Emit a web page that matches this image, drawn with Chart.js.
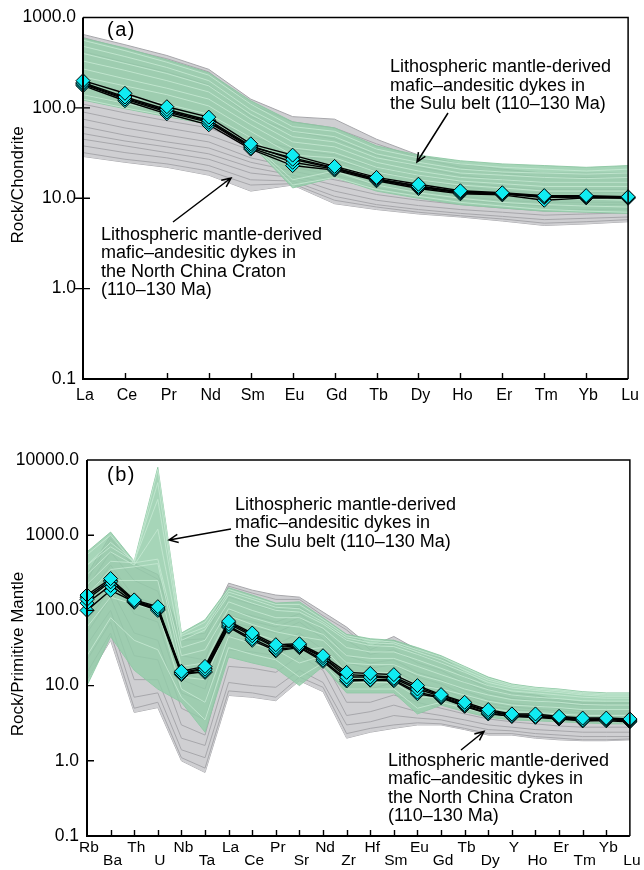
<!DOCTYPE html>
<html>
<head>
<meta charset="utf-8">
<script src="https://cdn.jsdelivr.net/npm/chart.js@4/dist/chart.umd.min.js"></script>
<style>
  html, body { margin: 0; padding: 0; background: #fff; }
  #wrap { position: relative; width: 644px; height: 870px; }
  canvas { position: absolute; left: 0; }
  #reeChart { top: 0; width: 644px; height: 430px; }
  #spiderChart { top: 430px; width: 644px; height: 440px; }
</style>
</head>
<body>
<div id="wrap">
  <canvas id="reeChart" width="644" height="430"></canvas>
  <canvas id="spiderChart" width="644" height="440"></canvas>
</div>
<script>
// ---------- (a) chondrite-normalised REE ----------
const reeElements = ['La','Ce','Pr','Nd','Sm','Eu','Gd','Tb','Dy','Ho','Er','Tm','Yb','Lu'];
const reeTicks = [0.1, 1, 10, 100, 1000];

// dykes (cyan diamonds)
const reeDykes = [
  [200,145,103,79,40,30,22.5,17,14.3,12.1,11.5,10.7,10.7,10.4],
  [190,132,96,73,38,27,21.5,16.5,13.5,11.8,11.3,10.4,10.5,10.3],
  [182,125,90,69,36,25,21,16,13.2,11.5,11.1,10.2,10.3,10.2],
  [176,120,86,65,35,23,20.5,15.6,12.8,11.2,10.9,9.5,10.1,10.0],
  [186,128,93,71,37,28,21.8,16.2,13.8,11.6,11.2,10.6,10.4,10.3]
];

// Sulu belt field (green)
const reeSuluTop    = [590,460,340,245,120,70,60,38,30,26,24,23,22,23];
const reeSuluBottom = [122,98,80,66,40,13,17,12,10,8.5,7.8,7.2,7,6.8];
const reeSuluLines = [
  [560,430,320,230,110,62,55,35,28,24,22,21,20,21],
  [480,370,280,200,95,55,48,31,25,21,19.5,19,18.5,19],
  [400,310,240,175,85,48,42,28,23,19,18,17,16.5,17],
  [330,260,200,150,75,42,37,25,20,17,16,15,15,15],
  [270,210,165,125,65,36,32,22,18,15.5,14.5,13.5,13.5,13.5],
  [220,175,140,105,55,30,28,19.5,16,14,13,12,12,12],
  [170,135,110,85,47,22,24,17,14,12,11,10,9.8,9.5],
  [140,112,90,72,42,16,20,14,11.5,10,9,8.5,8.2,8],
  [125,100,82,67,41,14,17,12.5,10.5,9,8.2,7.5,7.2,7]
];

// North China Craton field (grey)
const reeNccTop    = [650,500,380,267,125,80,75,45,30,24,21,19,19,19];
const reeNccBottom = [29,25,22,18,12,14,8.7,7.5,6.7,6.2,5.6,5.0,5.2,5.5];
const reeNccLines = [
  [600,450,350,250,110,70,60,40,28,22,19,17,17,17],
  [420,320,250,180,80,55,45,30,22,18,16,15,15,15],
  [140,110,90,75,48,35,30,22,18,15,13.5,12.5,12.5,12.5],
  [110,88,72,60,40,30,26,20,16,13.5,12,11.5,11.5,11.6],
  [90,72,60,50,34,27,22,17,14,12,11,10,10,10],
  [75,60,50,42,28,22,18,14,12,10.5,9.5,9,9,9],
  [62,50,42,36,25,20,16,13,11,9.5,8.8,8.2,8.4,8.6],
  [52,43,37,31,22,18,14,11,9.5,8.5,7.8,7.2,7.5,7.6],
  [45,38,32,27,19,17,12,9.5,8.3,7.5,7,6.5,6.7,6.9],
  [38,32,28,23,16,15.5,10.5,8.5,7.5,6.8,6.3,5.8,6,6.2],
  [32,27,24,20,14,14.5,9.5,8,7,6.4,5.9,5.3,5.5,5.8]
];

// ---------- (b) primitive-mantle-normalised trace elements ----------
const spiderElements = ['Rb','Ba','Th','U','Nb','Ta','La','Ce','Pr','Sr','Nd','Zr','Hf','Sm','Eu','Gd','Tb','Dy','Y','Ho','Er','Tm','Yb','Lu'];
const spiderTicks = [0.1, 1, 10, 100, 1000, 10000];

const spiderDykes = [
  [160,265,138,112,15.5,18,72,50,35,36,25,15,14.5,14,10,7.6,6.0,4.8,4.2,4.2,3.9,3.7,3.7,3.6],
  [140,240,132,105,14.5,16.5,66,46,32,34,23.5,13,13,12.5,9,7.2,5.6,4.5,4.0,3.9,3.8,3.5,3.6,3.5],
  [125,215,128,100,14,15.5,62,42,30,33,22,12,12,12,8.2,7.0,5.4,4.3,3.9,3.8,3.7,3.4,3.5,3.4],
  [100,185,130,103,14.8,15,60,40,29,32,21,11.5,11.8,11.6,7.8,6.9,5.3,4.2,3.9,3.8,3.6,3.4,3.4,3.3],
  [150,250,135,108,15,17,69,48,33,35,24,14,13.5,13,9.5,7.4,5.8,4.6,4.1,4.0,3.85,3.6,3.6,3.5]
];

const spiderSuluTop    = [600,1100,450,8000,50,75,200,160,125,130,80,48,42,40,32,25,18,13,10.5,9.5,9,8.3,8,8];
const spiderSuluBottom = [10,45,16,9,6,2.4,24,20,17,10,18,8,8,8,4.2,5.5,4.5,3.8,3.5,3.4,3.3,3.2,3.1,3.1];
const spiderSuluLines = [
  [550,1000,420,7500,48,70,190,150,120,120,76,46,40,38,30,24,17.5,12.5,10.2,9.3,8.8,8.1,7.8,7.8],
  [400,700,450,5000,45,60,175,140,110,105,70,43,37,36,28,22,16,11.8,9.8,9,8.5,7.8,7.5,7.5],
  [400,800,450,3000,40,55,160,125,100,95,66,40,34,33,26,20,15,11,9.3,8.6,8.1,7.5,7.2,7.2],
  [300,600,400,1200,32,40,130,100,80,80,58,32,28,28,22,17,13,10,8.5,8,7.5,7,6.8,6.8],
  [220,450,430,480,25,30,105,80,65,60,48,25,23,23,18,14,11,8.8,7.5,7,6.7,6.3,6.2,6.2],
  [160,350,380,420,18,20,85,65,52,45,40,20,19,19,14,11.5,9,7.5,6.5,6.2,6,5.6,5.5,5.5],
  [110,250,250,250,13,12,65,50,40,30,32,15,15,15,10,9,7.5,6.2,5.5,5.3,5.1,4.8,4.8,4.8],
  [60,150,120,100,9,6,45,36,30,20,25,11,11,11,7,7,6,5,4.5,4.4,4.2,4,4,4],
  [25,80,40,30,7,3.5,32,26,22,13,20,9,9,9,5,6,5,4.2,3.8,3.7,3.6,3.4,3.3,3.3]
];

const spiderNccTop    = [300,1000,420,300,45,50,230,186,160,150,95,60,33,45,30,24,15,10,8,7.5,6.5,6,6,6];
const spiderNccBottom = [12,40,4.4,5.1,1.0,0.7,7.4,7,6.3,11.6,8.3,2.0,2.4,2.7,3.0,3.0,2.6,2.2,2.2,2.0,1.9,1.85,1.85,1.9];
const spiderNccLines = [
  [250,900,380,260,40,42,210,170,140,140,85,55,30,40,26,20,13,9,7.5,7,6.2,5.8,5.8,5.8],
  [200,600,250,180,25,22,150,120,100,110,70,40,26,30,20,16,11,8,6.8,6.3,5.8,5.4,5.4,5.4],
  [150,400,150,120,15,12,100,85,70,90,55,25,20,22,15,12,8.5,6.5,5.8,5.4,5.0,4.6,4.6,4.6],
  [120,350,120,100,12,9,85,72,60,80,48,20,17,19,13,10.5,7.5,5.8,5.2,4.9,4.6,4.3,4.3,4.3],
  [100,300,90,70,8,6,70,60,50,70,42,15,14,16,11,9,6.8,5.3,4.8,4.5,4.2,3.9,3.9,4.0],
  [70,200,50,40,5,3.5,45,40,35,50,30,9,9,11,8,6.5,5.2,4.3,3.9,3.7,3.5,3.3,3.3,3.3],
  [50,150,25,22,3,2.2,30,28,25,35,22,6,6,7.5,6,5,4.2,3.6,3.3,3.1,2.9,2.8,2.8,2.8],
  [35,100,12,12,2,1.6,18,17,15,25,16,4,4.5,5.5,4.5,4,3.5,3,2.8,2.6,2.5,2.4,2.4,2.4],
  [22,70,7,8,1.4,1.1,11,10,9.5,16,11,3,3.3,4,3.7,3.5,3.0,2.6,2.5,2.3,2.2,2.1,2.1,2.1],
  [15,50,5,6,1.1,0.8,8.5,8,7,13,9.5,2.3,2.7,3.0,3.2,3.1,2.7,2.3,2.3,2.1,2.0,1.9,1.9,1.95]
];

// ---------- styling ----------
const FONT = "'Liberation Sans', Arial, Helvetica, sans-serif";
const GREY_FILL = '#cfcfd2';
const GREY_LINE = '#a7a7ab';
const GREEN_FILL = 'rgba(146,204,168,0.82)';
const GREEN_LINE = 'rgba(198,233,210,0.85)';
const GREEN_EDGE = 'rgba(140,198,162,0.9)';
const CYAN = '#10ecf2';

Chart.defaults.font.family = FONT;
Chart.defaults.color = '#000';

function plain(data, color, width, order) {
  return { data, borderColor: color, borderWidth: width, pointRadius: 0, pointHoverRadius: 0,
           fill: false, tension: 0, order };
}

function buildDatasets(dykes, suluTop, suluBottom, suluLines, nccTop, nccBottom, nccLines) {
  const sets = [];
  dykes.forEach(d => sets.push({
    data: d, borderColor: '#000', borderWidth: 1.4, tension: 0, fill: false, order: 0, clip: false,
    pointStyle: 'rectRot', pointRadius: 7, pointHoverRadius: 7,
    pointBackgroundColor: CYAN, pointBorderColor: '#000', pointBorderWidth: 1
  }));
  suluLines.forEach(d => sets.push(plain(d, GREEN_LINE, 1, 10)));
  sets.push(Object.assign(plain(suluTop, GREEN_EDGE, 1, 20), { fill: '+1', backgroundColor: GREEN_FILL }));
  sets.push(plain(suluBottom, GREEN_EDGE, 1, 20));
  nccLines.forEach(d => sets.push(plain(d, GREY_LINE, 1, 30)));
  sets.push(Object.assign(plain(nccTop, GREY_LINE, 1, 40), { fill: '+1', backgroundColor: GREY_FILL }));
  sets.push(plain(nccBottom, GREY_LINE, 1, 40));
  return sets;
}

// frame, inward tick marks, axis title, panel tag, annotations and arrows
const decor = {
  id: 'decor',
  afterDraw(chart, args, o) {
    const { ctx, chartArea: a } = chart;
    const xs = chart.scales.x, ys = chart.scales.y;
    ctx.save();
    ctx.strokeStyle = '#000';
    ctx.lineWidth = 1.4;
    ctx.beginPath();
    for (let i = 1; i < xs.ticks.length - 1; i++) {
      const x = Math.round(xs.getPixelForTick(i)) + 0.5;
      ctx.moveTo(x, a.bottom);
      ctx.lineTo(x, a.bottom - o.xTick);
    }
    ys.ticks.forEach(t => {
      const y = ys.getPixelForValue(t.value);
      if (y <= a.top + 2 || y >= a.bottom - 2) return;
      ctx.moveTo(a.left - o.yTickOut, y);
      ctx.lineTo(a.left + o.yTickIn, y);
    });
    ctx.stroke();

    ctx.lineWidth = 1.5;
    ctx.beginPath();
    ctx.moveTo(a.left, a.top); ctx.lineTo(a.right, a.top); ctx.lineTo(a.right, a.bottom);
    ctx.stroke();
    ctx.lineWidth = 2;
    ctx.beginPath();
    ctx.moveTo(a.left, a.top); ctx.lineTo(a.left, a.bottom); ctx.lineTo(a.right, a.bottom);
    ctx.stroke();

    ctx.fillStyle = '#000';
    // y axis title
    ctx.save();
    ctx.translate(o.yTitle.x, o.yTitle.y);
    ctx.rotate(-Math.PI / 2);
    ctx.font = '17px ' + FONT;
    ctx.textAlign = 'center';
    ctx.textBaseline = 'middle';
    ctx.fillText(o.yTitle.text, 0, 0);
    ctx.restore();

    // panel tag
    ctx.save();
    ctx.font = '20px ' + FONT;
    if ('letterSpacing' in ctx) ctx.letterSpacing = '1.5px';
    ctx.textAlign = 'left';
    ctx.textBaseline = 'middle';
    ctx.fillText(o.tag.text, o.tag.x, o.tag.y);
    ctx.restore();

    // annotations
    ctx.font = '18px ' + FONT;
    ctx.textAlign = 'left';
    ctx.textBaseline = 'middle';
    o.notes.forEach(n => n.lines.forEach((s, i) => ctx.fillText(s, n.x, n.y + i * n.lh)));

    // arrows with open heads
    ctx.lineWidth = 1.5;
    o.arrows.forEach(ar => {
      const ang = Math.atan2(ar.y2 - ar.y1, ar.x2 - ar.x1);
      const L = 10, w = 0.42;
      ctx.beginPath();
      ctx.moveTo(ar.x1, ar.y1); ctx.lineTo(ar.x2, ar.y2);
      ctx.moveTo(ar.x2 - L * Math.cos(ang - w), ar.y2 - L * Math.sin(ang - w));
      ctx.lineTo(ar.x2, ar.y2);
      ctx.lineTo(ar.x2 - L * Math.cos(ang + w), ar.y2 - L * Math.sin(ang + w));
      ctx.stroke();
    });
    ctx.restore();
  }
};

function makePanel(canvasId, cfg) {
  return new Chart(document.getElementById(canvasId), {
    type: 'line',
    data: { labels: cfg.labels, datasets: cfg.datasets },
    plugins: [decor],
    options: {
      responsive: false,
      animation: false,
      events: [],
      layout: { padding: { top: cfg.padTop, right: cfg.padRight, left: 0, bottom: 0 } },
      plugins: { legend: { display: false }, tooltip: { enabled: false }, decor: cfg.decor },
      scales: {
        x: {
          type: 'category',
          offset: false,
          grid: { display: false, drawTicks: false },
          border: { display: false },
          ticks: {
            autoSkip: false, maxRotation: 0, minRotation: 0,
            padding: cfg.xPad, labelOffset: 2, color: '#000',
            font: cfg.xFont,
            callback: cfg.xCallback
          },
          afterFit: s => { s.height = cfg.xHeight; }
        },
        y: {
          type: 'logarithmic',
          min: cfg.ticks[0], max: cfg.ticks[cfg.ticks.length - 1],
          grid: { display: false, drawTicks: false },
          border: { display: false },
          afterBuildTicks: s => { s.ticks = cfg.ticks.map(v => ({ value: v })); },
          ticks: {
            padding: cfg.yPad, color: '#000',
            font: { size: 17.5 },
            callback: v => Number(v).toFixed(1)
          },
          afterFit: s => { s.width = cfg.yWidth; }
        }
      }
    }
  });
}

makePanel('reeChart', {
  labels: reeElements,
  ticks: reeTicks,
  datasets: buildDatasets(reeDykes, reeSuluTop, reeSuluBottom, reeSuluLines, reeNccTop, reeNccBottom, reeNccLines),
  padTop: 16, padRight: 15.5, yWidth: 83, xHeight: 51,
  xPad: 7, yPad: 7,
  xFont: { size: 16 },
  xCallback: function (v, i) { return reeElements[i]; },
  decor: {
    xTick: 6, yTickOut: 9, yTickIn: 7,
    yTitle: { text: 'Rock/Chondrite', x: 18, y: 185 },
    tag: { text: '(a)', x: 107, y: 30 },
    notes: [
      { x: 390, y: 67, lh: 18.6, lines: ['Lithospheric mantle-derived', 'mafic\u2013andesitic dykes in', 'the Sulu belt (110\u2013130 Ma)'] },
      { x: 101, y: 235, lh: 18.4, lines: ['Lithospheric mantle-derived', 'mafic\u2013andesitic dykes in', 'the North China Craton', '(110\u2013130 Ma)'] }
    ],
    arrows: [
      { x1: 448, y1: 113, x2: 417, y2: 162 },
      { x1: 173, y1: 222, x2: 231, y2: 178 }
    ]
  }
});

makePanel('spiderChart', {
  labels: spiderElements,
  ticks: spiderTicks,
  datasets: buildDatasets(spiderDykes, spiderSuluTop, spiderSuluBottom, spiderSuluLines, spiderNccTop, spiderNccBottom, spiderNccLines),
  padTop: 30, padRight: 13.5, yWidth: 87, xHeight: 34,
  xPad: 5.5, yPad: 8,
  xFont: { size: 15.5, lineHeight: 13 / 15.5 },
  xCallback: function (v, i) { return i % 2 ? ['', spiderElements[i]] : spiderElements[i]; },
  decor: {
    xTick: 6, yTickOut: 0, yTickIn: 7,
    yTitle: { text: 'Rock/Primitive Mantle', x: 18, y: 224 },
    tag: { text: '(b)', x: 107, y: 45 },
    notes: [
      { x: 235, y: 75, lh: 18.5, lines: ['Lithospheric mantle-derived', 'mafic\u2013andesitic dykes in', 'the Sulu belt (110\u2013130 Ma)'] },
      { x: 388, y: 331, lh: 18.4, lines: ['Lithospheric mantle-derived', 'mafic\u2013andesitic dykes in', 'the North China Craton', '(110\u2013130 Ma)'] }
    ],
    arrows: [
      { x1: 231, y1: 99, x2: 169, y2: 110 },
      { x1: 461, y1: 320, x2: 484, y2: 301.5 }
    ]
  }
});
</script>
</body>
</html>
